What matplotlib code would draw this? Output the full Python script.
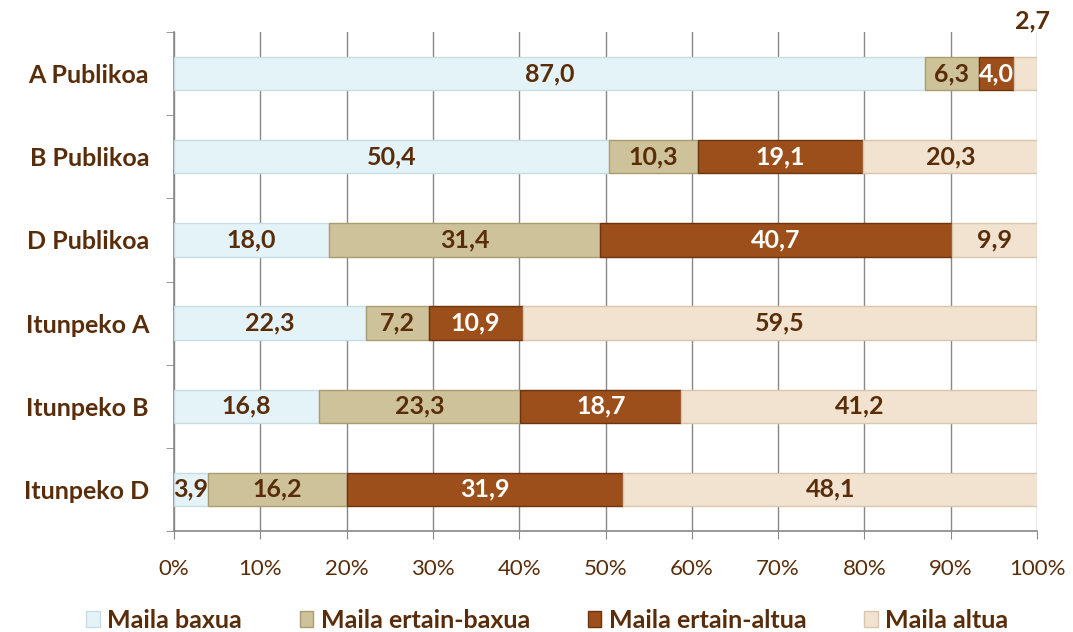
import matplotlib
matplotlib.use("Agg")
import matplotlib.pyplot as plt
import numpy as np

categories = ["A Publikoa", "B Publikoa", "D Publikoa", "Itunpeko A", "Itunpeko B", "Itunpeko D"]
series_names = ["Maila baxua", "Maila ertain-baxua", "Maila ertain-altua", "Maila altua"]
baxua = [87.0, 50.4, 18.0, 22.3, 16.8, 3.9]
ertain_baxua = [6.3, 10.3, 31.4, 7.2, 23.3, 16.2]
ertain_altua = [4.0, 19.1, 40.7, 10.9, 18.7, 31.9]
altua = [2.7, 20.3, 9.9, 59.5, 41.2, 48.1]
xticks = [0, 10, 20, 30, 40, 50, 60, 70, 80, 90, 100]

colors = ["#e4f3f7", "#cdc29a", "#9c4f1a", "#f1e3d0"]
edges = ["#c8dde3", "#a89c70", "#6e3410", "#d8c6ae"]
text_colors = ["#5a2d0a", "#5a2d0a", "#ffffff", "#5a2d0a"]
brown = "#5a2d0a"

plt.rcParams['font.family'] = ['Lato', 'DejaVu Sans']

fig = plt.figure(figsize=(10.73, 6.32), dpi=100)
ax = fig.add_axes([174/1073, 1 - 531/632, (1037-174)/1073, (531-32)/632])

series = [baxua, ertain_baxua, ertain_altua, altua]
y = np.arange(len(categories))
left = np.zeros(len(categories))
for i, vals in enumerate(series):
    vals = np.array(vals)
    ax.barh(y, vals, left=left, height=0.4, color=colors[i], edgecolor=edges[i],
            linewidth=1.0, label=series_names[i], zorder=3)
    for j, v in enumerate(vals):
        txt = f"{v:.1f}".replace(".", ",")
        cx = left[j] + v / 2
        if v < 3:
            ax.text(left[j] + v - 0.5, y[j] - 0.5, txt, ha="center", va="bottom",
                    fontsize=18, fontweight="bold", color=brown, zorder=5)
        else:
            ax.text(cx, y[j], txt, ha="center", va="center", fontsize=18,
                    fontweight="bold", color=text_colors[i], zorder=5)
    left = left + vals

ax.set_xlim(0, 100)
ax.set_ylim(len(categories) - 0.5, -0.5)
ax.set_xticks(xticks)
ax.set_xticklabels([f"{t}%" for t in xticks], fontsize=16, color=brown)
ax.set_yticks(y)
ax.set_yticklabels(categories, fontsize=18, fontweight="bold", color=brown)
ax.set_yticks(np.arange(len(categories) + 1) - 0.5, minor=True)
ax.tick_params(axis="y", which="major", length=0, pad=18)
ax.tick_params(axis="y", which="minor", length=6, color="#888888", direction="out")
ax.tick_params(axis="x", length=6, color="#888888", direction="out", pad=14)
ax.grid(axis="x", color="#888888", linewidth=1.0, zorder=0)
for s in ["top", "right"]:
    ax.spines[s].set_visible(False)
for s in ["left", "bottom"]:
    ax.spines[s].set_color("#888888")
    ax.spines[s].set_linewidth(1.2)

leg = fig.legend(loc="lower center", bbox_to_anchor=(0.51, -0.035), ncol=4, frameon=False,
                 prop={"size": 18, "weight": "bold"}, handlelength=0.55, handleheight=0.6,
                 handletextpad=0.3, columnspacing=2.3)
for t in leg.get_texts():
    t.set_color(brown)

fig.savefig("out.png", dpi=100)
